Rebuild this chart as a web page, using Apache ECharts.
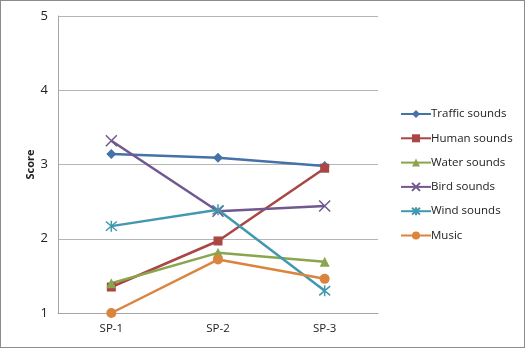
<!DOCTYPE html>
<html>
<head>
<meta charset="utf-8">
<script src="https://cdn.jsdelivr.net/npm/echarts@6/dist/echarts.min.js"></script>
<style>
  html, body { margin: 0; padding: 0; background: #fff; }
  #main { width: 523px; height: 346px; border: 1px solid #8c8c8c; }
</style>
</head>
<body>
<div id="main"></div>
<script>
// categories and values
const categories = ['SP-1', 'SP-2', 'SP-3'];
const trafficSounds = [3.14, 3.09, 2.98];
const humanSounds = [1.35, 1.97, 2.95];
const waterSounds = [1.40, 1.81, 1.69];
const birdSounds = [3.32, 2.37, 2.44];
const windSounds = [2.17, 2.39, 1.30];
const music = [1.00, 1.72, 1.46];
const yTicks = [1, 2, 3, 4, 5];

const chart = echarts.init(document.getElementById('main'));

const mkSeries = (name, data, color, symbol, size, stroked) => ({
  name: name,
  type: 'line',
  data: data,
  symbol: symbol,
  symbolSize: size,
  lineStyle: { color: color, width: 2.5 },
  itemStyle: stroked
    ? { color: color, borderColor: color, borderWidth: 1.5 }
    : { color: color },
  emphasis: { disabled: true }
});

const cross = 'path://M0,0L10,10M10,0L0,10';
const star = 'path://M0,0L10,10M10,0L0,10M5,-1L5,11';

const option = {
  animation: false,
  textStyle: { fontFamily: 'Open Sans' },
  grid: { left: 57, top: 15, width: 320, height: 297 },
  legend: {
    orient: 'vertical',
    left: 394,
    top: 102,
    itemWidth: 30,
    itemHeight: 10,
    itemGap: 12.3,
    textStyle: { fontSize: 11.5, color: '#222', padding: [0, 0, 0, -5] },
    data: ['Traffic sounds', 'Human sounds', 'Water sounds', 'Bird sounds', 'Wind sounds', 'Music']
  },
  xAxis: {
    type: 'category',
    data: categories,
    axisTick: { show: false },
    axisLine: { lineStyle: { color: '#a6a6a6' } },
    axisLabel: { color: '#222', fontSize: 11.5, margin: 10 }
  },
  yAxis: {
    type: 'value',
    min: yTicks[0],
    max: yTicks[yTicks.length - 1],
    interval: 1,
    name: 'Score',
    nameLocation: 'middle',
    nameGap: 22,
    nameMoveOverlap: false,
    nameTextStyle: { fontWeight: 'bold', fontSize: 11, color: '#222' },
    axisLine: { show: true, lineStyle: { color: '#a6a6a6' } },
    axisTick: { show: false },
    splitLine: { lineStyle: { color: '#b5b5b5' } },
    axisLabel: { color: '#222', fontSize: 13, margin: 10 }
  },
  series: [
    mkSeries('Traffic sounds', trafficSounds, '#4572A7', 'diamond', 10),
    mkSeries('Human sounds', humanSounds, '#AA4643', 'rect', 9),
    mkSeries('Water sounds', waterSounds, '#89A54E', 'triangle', 10),
    mkSeries('Bird sounds', birdSounds, '#71588F', cross, 11, true),
    mkSeries('Wind sounds', windSounds, '#4198AF', star, 11, true),
    mkSeries('Music', music, '#DB843D', 'circle', 10)
  ]
};

chart.setOption(option);
</script>
</body>
</html>
